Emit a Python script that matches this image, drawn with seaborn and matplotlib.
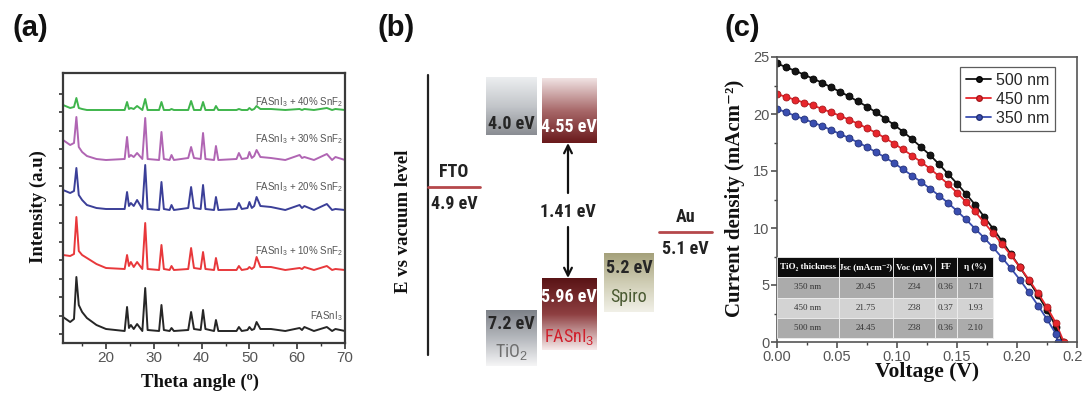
import numpy as np
import pandas as pd
import matplotlib
matplotlib.use("Agg")
import matplotlib.pyplot as plt
import seaborn as sns
from matplotlib import font_manager
from matplotlib.colors import LinearSegmentedColormap
from matplotlib.lines import Line2D
from matplotlib.ticker import MultipleLocator, FormatStrFormatter

# ---------------- data: panel (a) XRD ----------------
two_theta = [11.0, 12.5, 13.3, 13.8, 14.3, 15.0, 16.0, 18.0, 20.0, 23.9,
             24.4, 24.8, 25.2, 25.8, 26.5, 27.6, 28.2, 28.7, 31.1, 31.6,
             32.1, 33.3, 33.7, 34.2, 37.2, 37.8, 38.4, 39.8, 40.3, 40.8,
             42.6, 43.0, 43.5, 47.3, 47.8, 48.4, 49.6, 50.0, 50.5, 51.0,
             51.5, 52.3, 54.5, 57.5, 60.5, 61.0, 61.5, 63.5, 66.2, 67.3,
             68.0, 70.0]
xrd_0 = [26, 21, 24, 66, 38, 31, 25, 18, 14, 12,
         36, 15, 18, 14, 19, 12, 55, 13, 12, 38,
         13, 12, 15, 12, 13, 31, 14, 13, 33, 14,
         12, 23, 12, 12, 16, 12, 13, 16, 13, 14,
         21, 14, 14, 12, 15, 13, 16, 12, 16, 12,
         14, 12]
xrd_10 = [88, 87, 89, 126, 92, 88, 85, 79, 75, 74,
          88, 77, 81, 76, 81, 74, 120, 74, 73, 98,
          74, 73, 77, 73, 74, 95, 75, 74, 91, 74,
          73, 85, 73, 73, 77, 73, 74, 76, 74, 76,
          86, 76, 76, 73, 75, 74, 76, 73, 77, 73,
          74, 73]
xrd_20 = [153, 150, 152, 175, 148, 143, 138, 135, 134, 134,
          151, 137, 140, 137, 143, 134, 178, 134, 133, 161,
          134, 133, 138, 133, 135, 156, 135, 134, 158, 134,
          133, 146, 133, 134, 140, 134, 135, 141, 135, 137,
          146, 137, 136, 133, 138, 135, 137, 133, 139, 133,
          134, 133]
xrd_30 = [203, 198, 200, 226, 196, 191, 187, 184, 183, 184,
          206, 186, 188, 186, 190, 184, 225, 184, 183, 211,
          184, 183, 188, 183, 185, 196, 185, 184, 210, 184,
          183, 197, 183, 184, 190, 184, 185, 191, 185, 187,
          193, 186, 185, 183, 188, 185, 186, 183, 189, 183,
          186, 183]
xrd_40 = [238, 235, 236, 245, 235, 234, 233, 233, 233, 233,
          241, 234, 235, 234, 237, 233, 244, 233, 233, 241,
          233, 233, 234, 233, 233, 242, 233, 233, 241, 233,
          233, 237, 233, 233, 234, 233, 233, 235, 233, 234,
          237, 234, 234, 233, 234, 233, 234, 233, 235, 233,
          234, 233]
xrd_labels = ["FASnI$_3$", "FASnI$_3$ + 10% SnF$_2$", "FASnI$_3$ + 20% SnF$_2$",
              "FASnI$_3$ + 30% SnF$_2$", "FASnI$_3$ + 40% SnF$_2$"]
xrd_label_y = [27, 92, 156, 204, 241]
xrd_colors = ["#262626", "#e8383b", "#3b3f98", "#b065b3", "#3fb54c"]
xrd_ticks = [20, 30, 40, 50, 60, 70]

# ---------------- data: panel (c) J-V ----------------
volt = [0.0000, 0.0075, 0.0150, 0.0225, 0.0300, 0.0375, 0.0450, 0.0525,
        0.0600, 0.0675, 0.0750, 0.0825, 0.0900, 0.0975, 0.1050, 0.1125,
        0.1200, 0.1275, 0.1350, 0.1425, 0.1500, 0.1575, 0.1650, 0.1725,
        0.1800, 0.1875, 0.1950, 0.2025, 0.2100, 0.2175, 0.2250, 0.2325]
voc_end = [0.238, 0.239, 0.234]
j_500 = [24.45, 24.10, 23.80, 23.45, 23.10, 22.75, 22.35, 21.95,
         21.55, 21.10, 20.65, 20.15, 19.60, 19.05, 18.45, 17.80,
         17.10, 16.40, 15.60, 14.75, 13.90, 13.00, 12.05, 11.00,
         9.95, 8.85, 7.70, 6.55, 5.35, 4.10, 2.80, 1.35]
j_450 = [21.75, 21.50, 21.25, 21.00, 20.75, 20.45, 20.15, 19.85,
         19.50, 19.15, 18.75, 18.35, 17.90, 17.40, 16.90, 16.35,
         15.80, 15.20, 14.55, 13.85, 13.10, 12.30, 11.45, 10.50,
         9.55, 8.60, 7.60, 6.55, 5.45, 4.30, 3.05, 1.65]
j_350 = [20.45, 20.15, 19.85, 19.55, 19.25, 18.95, 18.60, 18.25,
         17.90, 17.50, 17.10, 16.65, 16.20, 15.70, 15.15, 14.60,
         14.05, 13.45, 12.85, 12.20, 11.50, 10.75, 9.95, 9.15,
         8.30, 7.40, 6.45, 5.45, 4.35, 3.20, 2.00, 0.70]
jv_labels = ["500 nm", "450 nm", "350 nm"]
jv_colors = ["#151515", "#e8262c", "#3a4eb0"]
jv_edge = ["#000000", "#a8181c", "#233075"]

table_cols = ["TiO\u2082 thickness", "Jsc (mAcm\u207b\u00b2)", "Voc (mV)", "FF", "\u03b7 (%)"]
table_rows = [["350 nm", "20.45", "234", "0.36", "1.71"],
              ["450 nm", "21.75", "238", "0.37", "1.93"],
              ["500 nm", "24.45", "238", "0.36", "2.10"]]

# ---------------- data: panel (b) energy diagram ----------------
band_labels = ["4.0 eV", "4.55 eV", "7.2 eV", "5.96 eV", "5.2 eV"]
band_names = ["", "", "TiO$_2$", "FASnI$_3$", "Spiro"]
electrode_names = ["FTO", "Au"]
electrode_values = ["4.9 eV", "5.1 eV"]
gap_label = "1.41 eV"

# ---------------- figure ----------------
sns.set_theme(style="ticks")
plt.rcParams['font.family'] = ['Liberation Sans', 'DejaVu Sans']
plt.rcParams['mathtext.fontset'] = 'custom'
plt.rcParams['mathtext.rm'] = 'Liberation Sans'
plt.rcParams['mathtext.it'] = 'Liberation Sans:italic'
plt.rcParams['mathtext.bf'] = 'Liberation Sans:bold'

avail = {f.name for f in font_manager.fontManager.ttflist}
bfam, bsize = 'DejaVu Sans', 10.5
for cand, sz in [('Roboto Condensed', 13), ('Liberation Sans Narrow', 13.5),
                 ('Open Sans Condensed', 13), ('Lato', 11.5), ('Roboto', 11)]:
    if cand in avail:
        bfam, bsize = cand, sz
        break

W, H = 1083, 396
fig = plt.figure(figsize=(W / 100, H / 100), dpi=100)


def axes_px(l, t, r, b):
    return fig.add_axes([l / W, 1 - b / H, (r - l) / W, (b - t) / H])


def ftext(x, y, s, **kw):
    fig.text(x / W, 1 - y / H, s, **kw)


serif = ['Liberation Serif', 'DejaVu Serif']

# panel labels
for lab, x in zip(["(a)", "(b)", "(c)"], [30, 396, 742]):
    ftext(x, 28, lab, ha='center', va='center', fontsize=21, fontweight='bold', color='#111')

# ---------------- panel (a) ----------------
axa = axes_px(63, 73, 345, 343)
for ys, col in zip([xrd_0, xrd_10, xrd_20, xrd_30, xrd_40], xrd_colors):
    sns.lineplot(x=two_theta, y=ys, ax=axa, color=col, lw=1.4, sort=False, estimator=None)
for lab, yv in zip(xrd_labels, xrd_label_y):
    axa.text(69.6, yv, lab, ha='right', va='center', fontsize=7, color='#555')
axa.set_xlim(11, 70)
axa.set_ylim(0, 270)
axa.set_xticks(xrd_ticks)
axa.xaxis.set_minor_locator(MultipleLocator(5))
axa.set_yticks(np.arange(9, 265, 18.5))
axa.set_yticklabels([])
axa.tick_params(axis='x', which='major', direction='out', length=4, width=1.2,
                labelsize=11, labelcolor='#555', color='#333', pad=2)
axa.tick_params(axis='x', which='minor', direction='out', length=2.5, width=1, color='#333')
axa.tick_params(axis='y', direction='out', length=3, width=1.2, color='#333')
for s in axa.spines.values():
    s.set_color('#3a3a3a')
    s.set_linewidth(1.6)
ftext(200, 382, "Theta angle (\u00ba)", ha='center', va='center', fontsize=13.5,
      fontweight='bold', family=serif, color='#111')
ftext(38, 207, "Intensity (a.u)", ha='center', va='center', rotation=90, fontsize=13.5,
      fontweight='bold', family=serif, color='#111')

# ---------------- panel (b) ----------------
axb = axes_px(370, 40, 720, 396)
axb.set_xlim(370, 720)
axb.set_ylim(396, 40)
axb.axis('off')

bfont = dict(family=[bfam, 'DejaVu Sans'])


def grad_box(x0, x1, y0, y1, colors):
    cmap = LinearSegmentedColormap.from_list('g', colors)
    g = np.linspace(0, 1, 100).reshape(-1, 1)
    axb.imshow(g, cmap=cmap, extent=(x0, x1, y1, y0), origin='upper', aspect='auto',
               interpolation='bilinear', zorder=1)


boxes = [(486, 537, 77, 135, ['#eceef0', '#c3c6ca', '#8a8d93']),
         (542, 597, 78, 143, ['#f0e2e2', '#a8696a', '#6a1a1c']),
         (486, 537, 310, 366, ['#7e8289', '#b5b8bd', '#f5f5f6']),
         (542, 597, 278, 350, ['#5a1416', '#8e3f41', '#f6eaea']),
         (604, 654, 253, 312, ['#a5a17b', '#cfcdb4', '#f1f0e7'])]
for (x0, x1, y0, y1, cols) in boxes:
    grad_box(x0, x1, y0, y1, cols)

label_pos = [(511, 124), (569, 127), (511, 324), (569, 297), (629, 268)]
label_col = ['#262626', 'white', '#262626', 'white', '#262626']
for lab, (x, y), c in zip(band_labels, label_pos, label_col):
    axb.text(x, y, lab, ha='center', va='center', fontsize=bsize, fontweight='bold', color=c, zorder=3, **bfont)
name_pos = [None, None, (511, 352), (569, 337), (629, 297)]
name_col = [None, None, '#6e6e6e', '#d0202c', '#4a5a32']
for nm, p, c in zip(band_names, name_pos, name_col):
    if p is None:
        continue
    axb.text(p[0], p[1], nm, ha='center', va='center', fontsize=bsize, color=c, zorder=3, **bfont)

# vertical energy axis
axb.plot([428, 428], [75, 355], color='#222', lw=1.6)
# electrode levels
for nm, val, (x0, x1, y) in zip(electrode_names, electrode_values, [(428, 480, 187), (659, 712, 232)]):
    axb.plot([x0, x1], [y, y], color='#b5484b', lw=2)
    axb.text((x0 + x1) / 2, y - 15, nm, ha='center', va='center', fontsize=bsize, fontweight='bold', color='#222', **bfont)
    axb.text((x0 + x1) / 2, y + 17, val, ha='center', va='center', fontsize=bsize, fontweight='bold', color='#222', **bfont)
axb.text(568, 212, gap_label, ha='center', va='center', fontsize=bsize, fontweight='bold', color='#222', **bfont)
axb.annotate('', xy=(568, 143), xytext=(568, 193),
             arrowprops=dict(arrowstyle='->', lw=1.6, color='#111', mutation_scale=14, shrinkA=0, shrinkB=0))
axb.annotate('', xy=(568, 278), xytext=(568, 227),
             arrowprops=dict(arrowstyle='->', lw=1.6, color='#111', mutation_scale=14, shrinkA=0, shrinkB=0))
ftext(403, 221, "E vs vacuum level", ha='center', va='center', rotation=90, fontsize=13.5,
      fontweight='bold', family=serif, color='#111')

# ---------------- panel (c) ----------------
axc = axes_px(777, 57, 1077, 342)
for v_end, js, lab, col, ec in zip(voc_end, [j_500, j_450, j_350], jv_labels, jv_colors, jv_edge):
    vv = volt + [v_end]
    jj = js + [0.0]
    sns.lineplot(x=vv, y=jj, ax=axc, color=col, lw=1.3, marker='o', markersize=5,
                 markeredgecolor=ec, markeredgewidth=0.6, sort=False, estimator=None, label=lab)
axc.set_xlim(0, 0.25)
axc.set_ylim(0, 25)
axc.xaxis.set_major_locator(MultipleLocator(0.05))
axc.xaxis.set_minor_locator(MultipleLocator(0.025))
axc.yaxis.set_major_locator(MultipleLocator(5))
axc.yaxis.set_minor_locator(MultipleLocator(2.5))
axc.xaxis.set_major_formatter(FormatStrFormatter('%.2f'))
axc.tick_params(which='major', direction='out', length=4, width=1.1, labelsize=10.5,
                labelcolor='#555', color='#444', pad=1.5)
axc.tick_params(which='minor', direction='out', length=2.5, width=1, color='#444')
for s in axc.spines.values():
    s.set_color('#555')
    s.set_linewidth(1.2)
handles = [Line2D([], [], color=c, lw=1.3, marker='o', markersize=4, markeredgecolor=e)
           for c, e in zip(jv_colors, jv_edge)]
leg = axc.legend(handles, jv_labels, loc='upper right', bbox_to_anchor=(0.927, 0.965),
                 fontsize=11.5, frameon=True, fancybox=False, edgecolor='#333',
                 handlelength=1.6, handletextpad=0.3, borderpad=0.35, labelspacing=0.25,
                 borderaxespad=0)
leg.get_frame().set_linewidth(0.9)

tbl = axc.table(cellText=table_rows, colLabels=table_cols,
                colWidths=[62, 54, 42, 22, 36], cellLoc='center',
                bbox=[0, 0.014, 0.72, 0.284])
tbl.auto_set_font_size(False)
tbl.set_fontsize(6.5)
row_bg = ['#ababab', '#d3d3d3', '#ababab']
for (r, c), cell in tbl.get_celld().items():
    cell.set_edgecolor('#eeeeee')
    cell.set_linewidth(0.6)
    t = cell.get_text()
    t.set_fontfamily(serif)
    if r == 0:
        cell.set_facecolor('#0d0d0d')
        t.set_color('white')
        t.set_fontweight('bold')
    else:
        cell.set_facecolor(row_bg[r - 1])
        t.set_color('#333')
tbl.set_zorder(5)

ftext(735, 198, "Current density (mAcm\u207b\u00b2)", ha='center', va='center', rotation=90,
      fontsize=15, fontweight='bold', family=serif, color='#111')
ftext(927, 372, "Voltage (V)", ha='center', va='center', fontsize=15.5, fontweight='bold',
      family=serif, color='#111')

fig.savefig("out.png", dpi=100)
